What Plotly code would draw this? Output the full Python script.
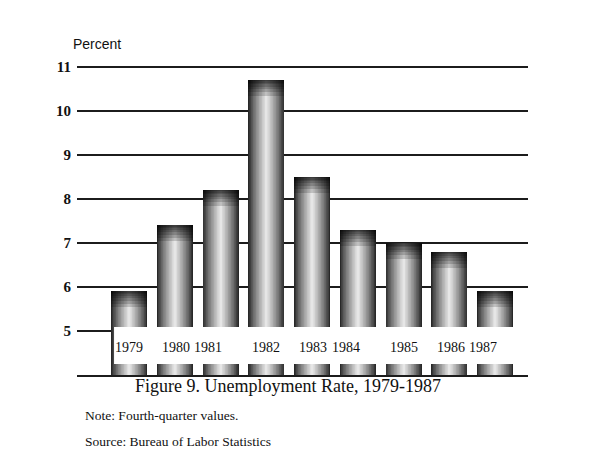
"""Figure 9 — unemployment rate bar chart, redrawn with Plotly."""

import plotly.graph_objects as go

# data (fourth-quarter values)
years = [1979, 1980, 1981, 1982, 1983, 1984, 1985, 1986, 1987]
rates = [5.9, 7.4, 8.2, 10.7, 8.5, 7.3, 7.0, 6.8, 5.9]
y_ticks = [5, 6, 7, 8, 9, 10, 11]

# the year labels in the pasted-on box don't sit under the bars, keep their own spots
label_text = ['1979', '1980', '1981', '1982', '1983', '1984', '1985', '1986', '1987']
label_pos = [1979.0, 1980.03, 1980.72, 1982.0, 1983.03, 1983.74, 1985.0, 1986.04, 1986.74]

COLORS = {
    'ink': '#1c1c1c',
    'paper': '#ffffff',
    'text': '#111111',
}

W, H = 610, 458
MARGIN = dict(l=77, r=82, t=58, b=83)
BAR_W = 0.79
N_LAYERS = 24
SERIF = 'Liberation Serif, Times New Roman, serif'


def px_to_paper(px_x, px_y):
    """Page pixel -> plot-domain paper coords."""
    pw = W - MARGIN['l'] - MARGIN['r']
    ph = H - MARGIN['t'] - MARGIN['b']
    return (px_x - MARGIN['l']) / pw, (H - MARGIN['b'] - px_y) / ph


fig = go.Figure()

# fake the cylinder shading: stacked narrower & lighter bars
for i in range(N_LAYERS):
    t = i / (N_LAYERS - 1)
    g = int(40 + (t ** 0.85) * 190)
    fig.add_trace(go.Bar(
        x=years,
        y=rates,
        width=BAR_W * (1 - 0.94 * t),
        marker=dict(color=f'rgb({g},{g},{g})', line=dict(width=0)),
        hoverinfo='skip',
        showlegend=False,
    ))

# darker band along the top of each bar
for d in [0.03, 0.06, 0.1, 0.15, 0.21, 0.28, 0.36]:
    fig.add_trace(go.Bar(
        x=years,
        y=[d] * len(rates),
        base=[r - d for r in rates],
        width=BAR_W,
        marker=dict(color='rgba(0,0,0,0.17)', line=dict(width=0)),
        hoverinfo='skip',
        showlegend=False,
    ))

# white strip pasted over the bottom of the bars
fig.add_shape(
    type='rect', xref='x', yref='y',
    x0=1978.67, x1=1987.74, y0=4.25, y1=5.09,
    fillcolor='white', line=dict(width=0), layer='above',
)

for txt, xp in zip(label_text, label_pos):
    fig.add_annotation(
        x=xp, y=4.62, xref='x', yref='y', text=txt, showarrow=False,
        font=dict(family=SERIF, size=14, color=COLORS['text']),
    )

texts = [
    ('Percent', 71, 44, 14, 'Liberation Sans, Arial, sans-serif'),
    ('Figure 9. Unemployment Rate, 1979-1987', 133, 386, 18, SERIF),
    ('Note: Fourth-quarter values.', 83, 415, 13.5, SERIF),
    ('Source: Bureau of Labor Statistics', 83, 441, 13.5, SERIF),
]
for txt, px_x, px_y, size, fam in texts:
    ax, ay = px_to_paper(px_x, px_y)
    fig.add_annotation(
        x=ax, y=ay, xref='paper', yref='paper',
        text=txt, showarrow=False, xanchor='left', yanchor='middle',
        font=dict(family=fam, size=size, color=COLORS['text']),
    )

fig.update_layout(
    width=W,
    height=H,
    barmode='overlay',
    bargap=0,
    paper_bgcolor=COLORS['paper'],
    plot_bgcolor=COLORS['paper'],
    margin=MARGIN,
    xaxis=dict(
        range=[1977.86, 1987.72],
        showticklabels=False,
        showgrid=False,
        zeroline=False,
        showline=True,
        linecolor=COLORS['ink'],
        linewidth=2,
        fixedrange=True,
    ),
    yaxis=dict(
        range=[4, 11.2],
        tickvals=y_ticks,
        showgrid=True,
        gridcolor=COLORS['ink'],
        gridwidth=2,
        zeroline=False,
        showline=False,
        ticks='outside',
        ticklen=2,
        tickcolor='rgba(0,0,0,0)',
        tickfont=dict(family=SERIF, size=15, color=COLORS['text'], weight='bold'),
        fixedrange=True,
    ),
)

# body margin would push the figure 8px off
fig.write_html(
    'out.html',
    config={'displayModeBar': False},
    post_script="document.body.style.margin='0';",
)
